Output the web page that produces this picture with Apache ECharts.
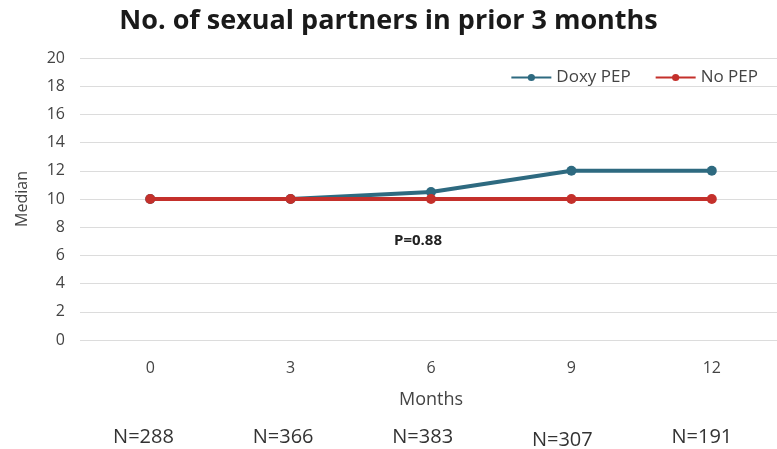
<!DOCTYPE html>
<html>
<head>
<meta charset="utf-8">
<script src="https://cdn.jsdelivr.net/npm/echarts@6/dist/echarts.min.js"></script>
<style>html,body{margin:0;padding:0;background:#fff}#c{width:777px;height:449px}</style>
</head>
<body>
<div id="c"></div>
<script>
var months = ['0', '3', '6', '9', '12'];
var doxyPep = [10, 10, 10.5, 12, 12];
var noPep = [10, 10, 10, 10, 10];
var nLabels = ['N=288', 'N=366', 'N=383', 'N=307', 'N=191'];

var chart = echarts.init(document.getElementById('c'));
var font = '"Open Sans", sans-serif';
chart.setOption({
  animation: false,
  textStyle: { fontFamily: font },
  title: {
    text: 'No. of sexual partners in prior 3 months',
    left: 'center', top: 3,
    textStyle: { fontFamily: font, fontSize: 27, fontWeight: 'bold', color: '#1a1a1a' }
  },
  legend: {
    right: 14, top: 64,
    itemGap: 24, itemWidth: 40, itemHeight: 9,
    textStyle: { fontSize: 17, color: '#444', fontFamily: font },
    data: ['Doxy PEP', 'No PEP']
  },
  grid: { left: 80, right: -5, top: 58, bottom: 109, outerBoundsMode: 'none' },
  xAxis: {
    type: 'category',
    data: months,
    boundaryGap: true,
    name: 'Months',
    nameLocation: 'middle',
    nameGap: 51,
    nameTextStyle: { fontSize: 18, color: '#444', fontFamily: font },
    axisLine: { show: false },
    axisTick: { show: false },
    axisLabel: { margin: 20, fontSize: 16, color: '#444', fontFamily: font }
  },
  yAxis: {
    type: 'value',
    min: 0, max: 20, interval: 2,
    name: 'Median',
    nameLocation: 'middle',
    nameGap: 50,
    nameTextStyle: { fontSize: 16, color: '#444', fontFamily: font },
    axisLabel: { fontSize: 16, color: '#444', margin: 15, fontFamily: font },
    splitLine: { lineStyle: { color: '#dcdcdc', width: 1 } }
  },
  series: [
    {
      name: 'Doxy PEP', type: 'line', data: doxyPep,
      symbol: 'circle', symbolSize: 10,
      itemStyle: { color: '#2e6a80' },
      lineStyle: { width: 4, color: '#2e6a80' },
      z: 2
    },
    {
      name: 'No PEP', type: 'line', data: noPep,
      symbol: 'circle', symbolSize: 10,
      itemStyle: { color: '#c4302b' },
      lineStyle: { width: 4, color: '#c4302b' },
      z: 3
    }
  ],
  graphic: [
    { type: 'text', left: 394, top: 233, style: { text: 'P=0.88', font: 'bold 15px ' + font, fill: '#222' } }
  ].concat(nLabels.map(function (t, i) {
    return {
      type: 'text',
      style: { text: t, font: '20px ' + font, fill: '#333', textAlign: 'center', textVerticalAlign: 'middle' },
      x: 143.5 + i * 139.6,
      y: i === 3 ? 440 : 437
    };
  }))
});
</script>
</body>
</html>
